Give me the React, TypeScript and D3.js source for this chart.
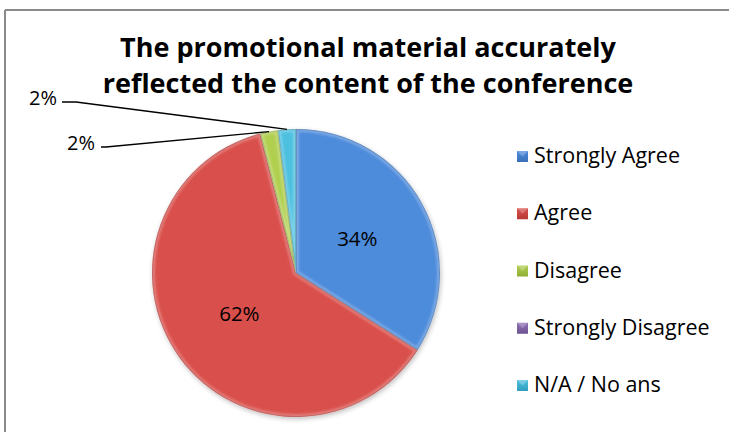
import React from "react";
import * as d3 from "d3";

const categories = ["Strongly Agree", "Agree", "Disagree", "Strongly Disagree", "N/A / No ans"];
const values = [34, 62, 2, 0, 2];
const colorsTop = ["#4D8BDB", "#D9504C", "#B0CF50", "#8F72B5", "#4EC0E0"];
const colorsBottom = ["#3A6FB8", "#B53934", "#8FAE34", "#6E5392", "#2F9DBE"];
const colorsMid = ["#4581D1", "#CF4642", "#A3C243", "#8064A2", "#3EB1D4"];
const titleLines = ["The promotional material accurately", "reflected the content of the conference"];

const W = 729, H = 432;
const cx = 296, cy = 273, R = 144;
const outsideLabels: Record<number, { tx: number; ty: number; ex: number; sx: number }> = {
  4: { tx: 43, ty: 105, sx: 62, ex: 76 },
  2: { tx: 81, ty: 150, sx: 101, ex: 106 },
};

export default function App() {
  const pie = d3.pie<number>().sort(null).startAngle(0).endAngle(2 * Math.PI).value((d) => d);
  const arcs = pie(values);
  const arc = d3.arc<d3.PieArcDatum<number>>().innerRadius(0).outerRadius(R);
  const labelArc = d3.arc<d3.PieArcDatum<number>>().innerRadius(70).outerRadius(70);
  const total = d3.sum(values);
  const fmt = (v: number) => `${Math.round((v / total) * 100)}%`;
  const font = "'Open Sans', sans-serif";

  const legendY = d3.scalePoint<string>().domain(categories).range([156, 385]);

  return (
    <svg width={W} height={H} style={{ position: "absolute", left: 0, top: 0 }}>
      <defs>
        {categories.map((c, i) => (
          <linearGradient key={c} id={`g${i}`} gradientUnits="userSpaceOnUse" x1={0} y1={cy - R} x2={0} y2={cy + R}>
            <stop offset="0" stopColor={colorsTop[i]} />
            <stop offset="0.5" stopColor={colorsMid[i]} />
            <stop offset="1" stopColor={colorsBottom[i]} />
          </linearGradient>
        ))}
        {categories.map((c, i) => (
          <linearGradient key={c + "l"} id={`lg${i}`} x1={0} y1={0} x2={0} y2={1}>
            <stop offset="0" stopColor={colorsTop[i]} />
            <stop offset="1" stopColor={colorsBottom[i]} />
          </linearGradient>
        ))}
        <filter id="blur1" x="-10%" y="-10%" width="120%" height="120%">
          <feGaussianBlur stdDeviation="1.2" />
        </filter>
        <filter id="shadow" x="-10%" y="-10%" width="130%" height="130%">
          <feGaussianBlur in="SourceAlpha" stdDeviation="2.5" />
          <feOffset dx="1" dy="2" result="b" />
          <feComponentTransfer><feFuncA type="linear" slope="0.25" /></feComponentTransfer>
          <feMerge><feMergeNode /><feMergeNode in="SourceGraphic" /></feMerge>
        </filter>
        {arcs.map((a, i) => (
          <clipPath key={i} id={`c${i}`}>
            <path d={arc(a) || ""} transform={`translate(${cx},${cy})`} />
          </clipPath>
        ))}
      </defs>
      <rect x={0} y={0} width={W} height={H} fill="#ffffff" />
      <line x1={5} y1={10} x2={W} y2={10} stroke="#8a8a8a" strokeWidth={2} />
      <line x1={5} y1={10} x2={5} y2={H} stroke="#8a8a8a" strokeWidth={2} />

      {titleLines.map((t, i) => (
        <text key={t} x={368} y={57 + i * 36} textAnchor="middle" fontFamily={font} fontWeight={700} fontSize={27} fill="#000">
          {t}
        </text>
      ))}

      <g transform={`translate(${cx},${cy})`} filter="url(#shadow)">
        {arcs.map((a, i) =>
          a.value > 0 ? <path key={i} d={arc(a) || ""} fill={`url(#g${i})`} /> : null
        )}
      </g>
      {arcs.map((a, i) =>
        a.value > 0 ? (
          <g key={"b" + i} clipPath={`url(#c${i})`}>
            <path
              d={arc(a) || ""}
              transform={`translate(${cx},${cy})`}
              fill="none"
              stroke="#ffffff"
              strokeOpacity={0.25}
              strokeWidth={6}
              strokeLinejoin="round"
              filter="url(#blur1)"
            />
            <path
              d={arc(a) || ""}
              transform={`translate(${cx},${cy})`}
              fill="none"
              stroke="#000000"
              strokeOpacity={0.15}
              strokeWidth={2}
            />
          </g>
        ) : null
      )}

      {arcs.map((a, i) => {
        if (a.value === 0) return null;
        const o = outsideLabels[i];
        if (o) {
          const mid = (a.startAngle + a.endAngle) / 2;
          const px = cx + Math.sin(mid) * R;
          const py = cy - Math.cos(mid) * R;
          return (
            <g key={"l" + i}>
              <polyline
                points={`${px},${py} ${o.ex},${o.ty - 3} ${o.sx},${o.ty - 3}`}
                fill="none"
                stroke="#000"
                strokeWidth={1.3}
              />
              <text x={o.tx} y={o.ty} textAnchor="middle" fontFamily={font} fontSize={20} fill="#000">
                {fmt(a.value)}
              </text>
            </g>
          );
        }
        const [lx, ly] = labelArc.centroid(a);
        return (
          <text key={"l" + i} x={cx + lx} y={cy + ly + 7} textAnchor="middle" fontFamily={font} fontSize={20.5} fill="#000">
            {fmt(a.value)}
          </text>
        );
      })}

      {categories.map((c, i) => {
        const y = legendY(c) || 0;
        return (
          <g key={c}>
            <rect x={517} y={y - 5} width={11} height={11} fill={`url(#lg${i})`} />
            <path d={`M${517},${y - 5} L${522.5},${y + 0.5} L${528},${y - 5}`} fill="#ffffff" fillOpacity={0.25} />
            <text x={534} y={y + 7} fontFamily={font} fontSize={21.5} fill="#000">
              {c}
            </text>
          </g>
        );
      })}
    </svg>
  );
}
